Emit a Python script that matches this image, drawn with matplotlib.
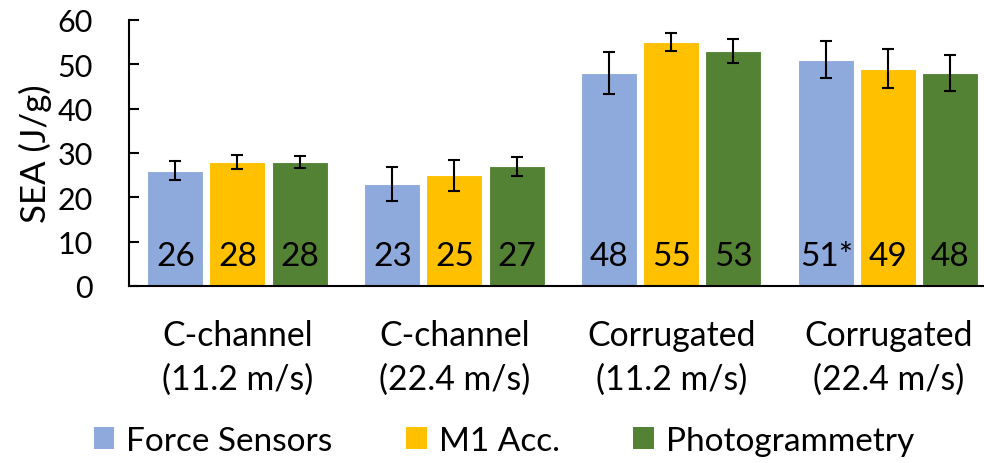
import numpy as np
import matplotlib
matplotlib.use("Agg")
import matplotlib.pyplot as plt
from matplotlib.patches import Patch

plt.rcParams['font.family'] = ['Lato', 'DejaVu Sans']

groups = ['C-channel\n(11.2 m/s)', 'C-channel\n(22.4 m/s)',
          'Corrugated\n(11.2 m/s)', 'Corrugated\n(22.4 m/s)']
series = ['Force Sensors', 'M1 Acc.', 'Photogrammetry']
colors = ['#8EA9DB', '#FFC000', '#548235']

force_sea = [26, 23, 48, 51]
m1_sea = [28, 25, 55, 49]
photo_sea = [28, 27, 53, 48]

force_err = [2.1, 3.9, 4.7, 4.2]
m1_err = [1.6, 3.5, 2.0, 4.4]
photo_err = [1.4, 2.1, 2.6, 4.0]

bar_text = [['26', '23', '48', '51*'],
            ['28', '25', '55', '49'],
            ['28', '27', '53', '48']]

values = [force_sea, m1_sea, photo_sea]
errors = [force_err, m1_err, photo_err]

fig = plt.figure(figsize=(9.84, 4.64), dpi=100)
ax = fig.add_axes([0.1311, 0.3815, 0.882, 0.5733])

x = np.arange(len(groups))
step = 0.286
width = 0.258
for i in range(3):
    xs = x + (i - 1) * step
    ax.bar(xs, values[i], width, color=colors[i], edgecolor='white', linewidth=0.8,
           yerr=errors[i], capsize=4.5,
           error_kw=dict(ecolor='black', elinewidth=1.5, capthick=1.5))
    for xi, t in zip(xs, bar_text[i]):
        ax.text(xi, 6.8, t, ha='center', va='center', fontsize=24, color='black')

ax.set_xlim(-0.5, 3.5)
ax.set_ylim(0, 60)
ax.set_yticks(range(0, 61, 10))
ax.set_xticks(x)
ax.set_xticklabels(groups, fontsize=24.3, linespacing=1.42)
ax.tick_params(axis='x', length=0, pad=24)
ax.tick_params(axis='y', direction='in', length=7, width=1.5, labelsize=22, pad=26)
for s in ['top', 'right']:
    ax.spines[s].set_visible(False)
for s in ['left', 'bottom']:
    ax.spines[s].set_linewidth(1.5)
ax.set_ylabel('SEA (J/g)', fontsize=25, labelpad=4)

handles = [Patch(facecolor=c, edgecolor='none') for c in colors]
fig.legend(handles, series, loc='center', bbox_to_anchor=(0.512, 0.048), ncol=3,
           frameon=False, fontsize=24, handlelength=0.62, handleheight=0.62,
           handletextpad=0.36, columnspacing=2.2)

fig.savefig('out.png', dpi=100)
